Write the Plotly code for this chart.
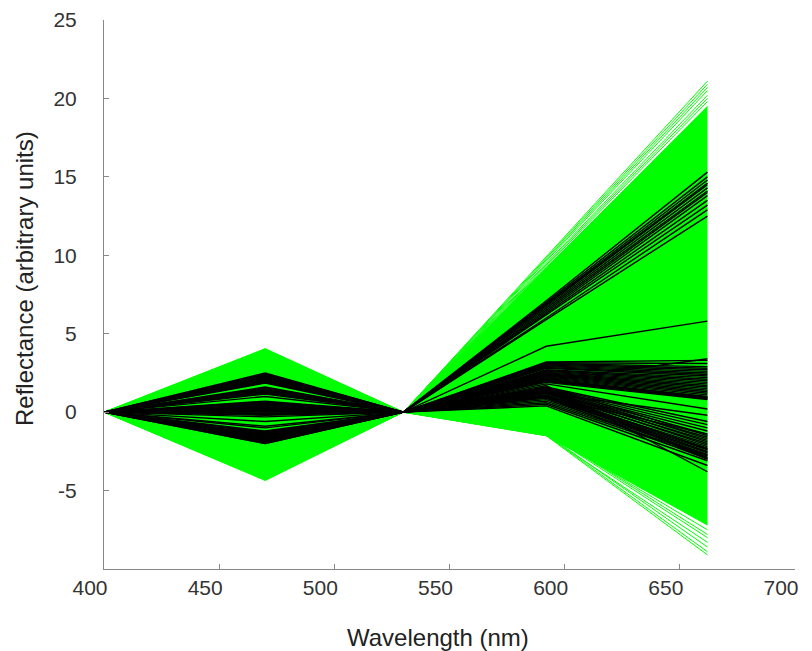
import plotly.graph_objects as go

# Wavelengths (nm) at which reflectance was sampled
wavelengths = [400, 470, 530, 592, 662]

# Envelope of the dense green spectra (values at each wavelength)
env_upper = [0, 4.05, 0, 9.2, 19.5]
env_lower = [0, -4.36, 0, -1.5, -7.2]

# Individual green (outer) spectra: values at 470, 592, 662 nm (400 and 530 nm are 0)
green_470 = [3.9, -4.2, 3.5, -3.8, 2.9, -3.0, 3.2, -4.3, 4.0, -3.5, 3.6, -2.8, 2.6, -4.0]
green_592 = [9.9, 9.8, 9.7, 9.6, 9.5, 9.4, 9.3, -1.5, -1.45, -1.4, -1.5, -1.35, -1.3, -1.4]
green_662 = [21.1, 20.9, 20.7, 20.5, 20.2, 20.0, 19.8, -9.1, -8.9, -8.6, -8.3, -8.0, -7.8, -7.5]

# Black spectra: values at 470, 592, 662 nm
black_470 = [2.5, 2.45, 2.4, 2.35, 2.3, 2.25, 2.2, 2.15, 2.1, 2.05, 2.0, 1.95, 1.9,
             1.0,
             1.6, 1.55, 1.5, 1.45, 1.4, 1.35, 1.3, 1.25, 1.2, 0.6, 0.55, 0.5, 0.45, 0.4,
             0.35, 0.3, 0.25, 0.2, 0.15, 0.1, 0.05, 0.0, -0.05, -0.1, -0.15, -0.2,
             -1.2, -1.25, -1.3, -1.35, -1.4, -1.45, -1.5, -1.55, -1.6, -1.65, -1.7, -1.75,
             -1.8, -1.85, -1.9, -1.95, -2.0, -0.3, 0.65, 1.15, -0.6, -1.0, -0.9, 1.85, 0.7,
             -1.3, -1.5, -1.7, -1.9, -1.4, -1.6, -1.8, -2.0]
black_592 = [7.1, 7.0, 6.9, 6.85, 6.8, 6.7, 6.6, 6.5, 6.4, 6.3, 6.2, 6.0, 5.9,
             4.2,
             3.2, 3.15, 3.1, 3.05, 3.0, 2.95, 2.9, 2.85, 2.8, 2.7, 2.65, 2.6, 2.55, 2.5,
             2.45, 2.4, 2.35, 2.3, 2.25, 2.2, 2.15, 2.1, 2.05, 2.0, 1.95, 1.9,
             1.6, 1.55, 1.5, 1.45, 1.4, 1.35, 1.3, 1.2, 1.1, 1.05, 1.0, 0.95,
             0.9, 0.8, 0.7, 0.6, 0.5, 0.4, 1.7, 1.8, 1.2, 1.0, 1.3, 1.5, 2.0,
             1.6, 1.5, 1.4, 1.3, 1.2, 1.1, 1.0, 0.9]
black_662 = [15.3, 15.0, 14.8, 14.6, 14.5, 14.3, 14.1, 14.0, 13.8, 13.5, 13.2, 12.9, 12.5,
             5.8,
             3.3, 3.1, 2.9, 2.8, 2.7, 2.6, 2.5, 2.4, 2.3, 2.2, 2.1, 2.0, 1.9, 1.8,
             1.7, 1.6, 1.5, 1.4, 1.3, 1.2, 1.1, 1.0, 0.95, 0.9, 0.85, 0.8,
             -0.6, -0.8, -1.0, -1.2, -1.4, -1.6, -1.8, -2.0, -2.2, -2.3, -2.4, -2.5,
             -2.6, -2.7, -2.8, -2.9, -3.1, -3.4, -3.8, 0.2, -0.2, -1.4, -2.9, -3.0, 3.4,
             -1.5, -1.7, -1.9, -2.1, -2.35, -2.55, -2.75, -3.0]

x_ticks = [400, 450, 500, 550, 600, 650, 700]
y_ticks = [-5, 0, 5, 10, 15, 20, 25]
y_tick_text = ["-5", "0", "5", "10", "15", "20", "25"]
x_title = "Wavelength (nm)"
y_title = "Reflectance (arbitrary units)"

GREEN = "#00ff00"
FONT = "Liberation Sans, Arial, sans-serif"

fig = go.Figure()

# dense green band
fig.add_trace(go.Scatter(x=wavelengths, y=env_lower, mode="lines",
                         line=dict(color=GREEN, width=1), showlegend=False, hoverinfo="skip"))
fig.add_trace(go.Scatter(x=wavelengths, y=env_upper, mode="lines", fill="tonexty",
                         fillcolor=GREEN, line=dict(color=GREEN, width=1),
                         showlegend=False, hoverinfo="skip"))

for a, b, c in zip(green_470, green_592, green_662):
    fig.add_trace(go.Scatter(x=wavelengths, y=[0, a, 0, b, c], mode="lines",
                             line=dict(color=GREEN, width=1), showlegend=False, hoverinfo="skip"))

for a, b, c in zip(black_470, black_592, black_662):
    fig.add_trace(go.Scatter(x=wavelengths, y=[0, a, 0, b, c], mode="lines",
                             line=dict(color="black", width=1.4), showlegend=False, hoverinfo="skip"))

axis_font = dict(family=FONT, size=21, color="#333")
title_font = dict(family=FONT, size=24, color="#222")

fig.update_layout(
    width=812, height=651,
    margin=dict(l=104, r=17, t=20, b=82),
    paper_bgcolor="white", plot_bgcolor="white",
    font=dict(family=FONT, color="#222"),
    xaxis=dict(range=[400, 700], tickvals=x_ticks, ticks="inside", ticklen=5,
               tickcolor="#888", showline=True, linecolor="#888", linewidth=1,
               showgrid=False, zeroline=False, tickfont=axis_font, automargin=False,
               ticklabelshift=-14),
    yaxis=dict(range=[-10, 25], tickvals=y_ticks, ticktext=y_tick_text, ticks="inside", ticklen=5,
               tickcolor="#888", showline=True, linecolor="#888", linewidth=1,
               showgrid=False, zeroline=False, tickfont=axis_font, ticklabelstandoff=22,
               automargin=False),
    annotations=[
        dict(text=x_title, xref="paper", yref="paper", x=0.483, y=-0.124,
             xanchor="center", yanchor="middle", showarrow=False, font=title_font),
        dict(text=y_title, xref="paper", yref="paper", x=-0.1158, y=0.53, textangle=-90,
             xanchor="center", yanchor="middle", showarrow=False, font=title_font),
    ],
)

fig.write_html("out.html", config={"displayModeBar": False},
               post_script="document.body.style.margin='0';document.body.style.overflow='hidden';")
